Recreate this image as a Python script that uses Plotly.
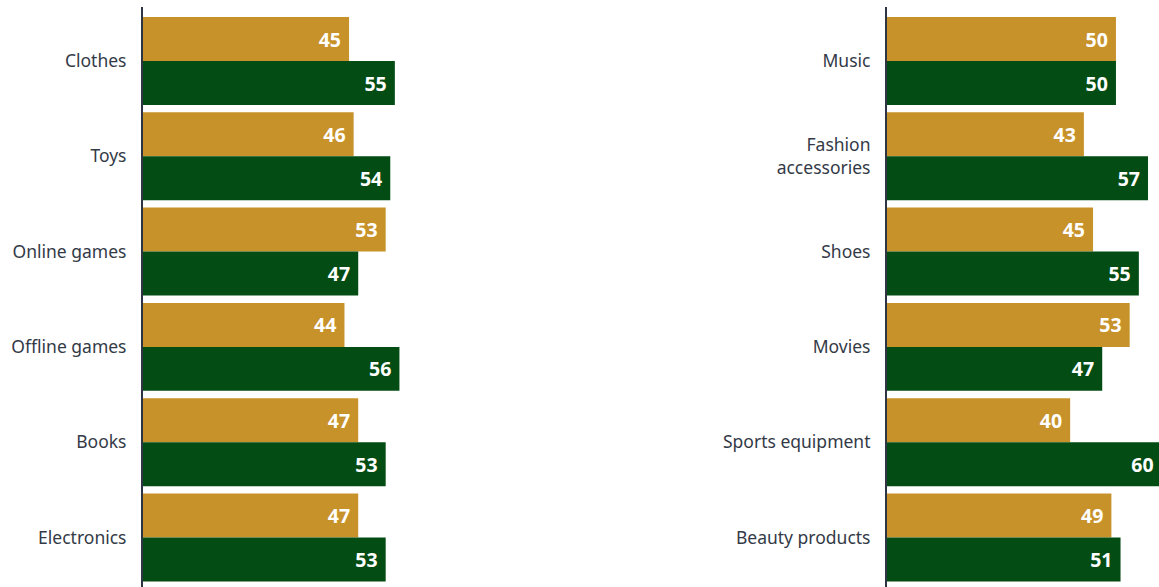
import plotly.graph_objects as go
from plotly.subplots import make_subplots

# Category labels, top to bottom, for each panel
left_categories = ["Clothes", "Toys", "Online games", "Offline games", "Books", "Electronics"]
right_categories = ["Music", "Fashion<br>accessories", "Shoes", "Movies", "Sports equipment", "Beauty products"]

# Percentage shares per category
left_gold = [45, 46, 53, 44, 47, 47]
left_green = [55, 54, 47, 56, 53, 53]
right_gold = [50, 43, 45, 53, 40, 49]
right_green = [50, 57, 55, 47, 60, 51]

GOLD = "#C8922A"
GREEN = "#034C14"
LABEL_COLOR = "#333A47"
AXIS_COLOR = "#2E3542"

W, H = 1159, 587

fig = make_subplots(rows=1, cols=2, horizontal_spacing=0.0)

panels = [
    (1, left_categories, left_gold, left_green),
    (2, right_categories, right_gold, right_green),
]
for col, cats, gold, green in panels:
    for name, vals, color in (("Group A", gold, GOLD), ("Group B", green, GREEN)):
        fig.add_trace(
            go.Bar(
                y=cats,
                x=vals,
                name=name,
                orientation="h",
                marker=dict(color=color, line=dict(width=0)),
                text=[f"{v}\u00a0" for v in vals],
                textposition="inside",
                insidetextanchor="end",
                textfont=dict(family="Noto Sans", size=19.5, color="white", weight="bold"),
                showlegend=False,
                hoverinfo="skip",
            ),
            row=1,
            col=col,
        )

# Horizontal domains (pixel-based)
fig.update_xaxes(
    range=[0, 59.4],
    showgrid=False,
    zeroline=False,
    showticklabels=False,
    showline=False,
)
fig.update_layout(
    xaxis=dict(domain=[143 / W, 415 / W]),
    xaxis2=dict(domain=[887 / W, 1.0]),
)

for idx, cats in ((1, left_categories), (2, right_categories)):
    key = "yaxis" if idx == 1 else "yaxis2"
    fig.layout[key].update(
        type="category",
        categoryorder="array",
        categoryarray=cats,
        range=[5.52, -0.567],
        showgrid=False,
        zeroline=False,
        showline=True,
        linecolor=AXIS_COLOR,
        linewidth=2,
        ticks="outside",
        ticklen=0,
        ticklabelstandoff=11,
        tickfont=dict(family="Noto Sans", size=17.5, color=LABEL_COLOR),
    )

fig.update_layout(
    width=W,
    height=H,
    margin=dict(l=0, r=0, t=7, b=0),
    barmode="group",
    bargap=0.077,
    bargroupgap=0,
    plot_bgcolor="white",
    paper_bgcolor="white",
    uniformtext=dict(minsize=19, mode="show"),
)

fig.write_html("out.html")
